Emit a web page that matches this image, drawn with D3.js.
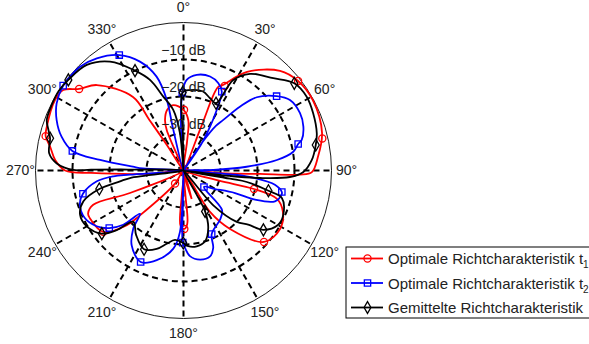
<!DOCTYPE html>
<html>
<head>
<meta charset="utf-8">
<script src="https://cdn.jsdelivr.net/npm/d3@7"></script>
<style>
  body { margin: 0; background: #fff; }
  text { font-family: "Liberation Sans", Arial, sans-serif; }
</style>
</head>
<body>
<svg id="chart" width="589" height="344"></svg>
<script>
// angle ticks (deg, clockwise from top) and dB rings
const angleTicks = [0, 30, 60, 90, 120, 150, 180, 210, 240, 270, 300, 330];
const ringTicks = [-10, -20, -30];

// series: [angle in deg, level in dB]
const redSeries = [
  [0, -23.6], [5.4, -26.3], [7, -32], [14, -40],
  [22, -27], [22.4, -15.7], [24.8, -14.5], [32.8, -8.3], [44.1, -2.5], [52, -0.7], [61.4, -0.2],
  [74.8, -1.2], [84.3, -3.5], [90.7, -5.3], [92, -8.5], [92.6, -19.3], [94, -30], [99, -40],
  [106, -30], [104.7, -20.3], [106.9, -13.6], [112.6, -10.9], [121.2, -9.5], [131.6, -10.9],
  [141.5, -19.8], [147.4, -26.7], [157, -40],
  [164, -32], [171, -40],
  [175.5, -33], [176, -25.5], [179.2, -24.2], [183, -25], [184, -33], [195, -40],
  [212.8, -35.8], [224.2, -23.1], [226, -18.7], [232.6, -12.7], [243, -11.6], [245.7, -11.7],
  [249.2, -13.9], [247.2, -24.3], [255, -40],
  [264, -32], [268.5, -15], [270, -8], [274.7, -5.2], [280.1, -3.4], [284, -1.6], [287.8, -1.2],
  [298.8, -0.4], [303.8, -0.9], [308, -4.2], [314.6, -7.1], [325.5, -15.9], [326, -23.6], [327, -32],
  [332, -40],
  [337.5, -28.2], [340, -25.4], [345, -23], [351, -22.1]
];
const redMarks = [
  [0.5, -23.6], [26, -14.6], [52, -0.7], [77, -1.5], [104.7, -20.3], [131.6, -10.9], [154.7, -40],
  [179.2, -24.2], [212.8, -35.8], [232.6, -12.7], [257.5, -40], [284, -1.6], [308, -4.2], [334.6, -40]
];

const blueSeries = [
  [359.1, -19], [2, -15.5], [7.9, -13.9], [15.8, -13.6], [21.8, -14.6], [25.9, -16.3], [28.8, -21.4],
  [31.2, -26.2], [33.8, -31.2], [33.5, -40],
  [34, -30], [36, -25], [38.2, -22.6], [41.5, -17], [45, -12], [51.4, -7.8], [56.5, -5.5], [63.8, -4.9],
  [69.9, -5.5], [75.5, -7], [77, -8.2], [80.3, -9.9], [83.6, -14.6], [86.6, -22.9], [89, -31.9], [92, -40],
  [94.7, -26], [96, -20.6], [98.8, -15], [102.3, -12.8], [103.8, -12.7], [108.6, -13.9], [112.2, -19.1],
  [113.6, -24.8], [120.4, -30.1], [128.8, -32.9],
  [135.7, -25.1], [143, -23.5], [156.1, -21.2], [159, -17.6], [162.8, -15.7], [169.5, -15.5], [175.7, -16.8],
  [178.9, -19.1], [180.6, -20.5], [181, -30], [182, -40],
  [183.3, -23.4], [187.4, -18.7], [196.6, -14.7], [205.1, -12.7], [214.7, -15.4], [220.8, -19.2],
  [225.2, -23.4], [228, -18.1], [232.2, -14.6], [237.3, -12.1], [244.3, -10.4], [251.7, -10.5],
  [257, -12.1], [262.9, -16.4], [265.3, -21], [265.5, -25.5], [268, -40],
  [273, -29], [274.3, -26.3], [277.2, -17.3], [280, -9.5], [285.5, -5.8], [291.7, -3.1], [297.9, -1.2],
  [305.2, -0.2], [309.6, -0.2], [315.1, -0.4], [322.3, -1.7], [330.9, -4.3], [338.2, -8.3], [344, -13.6],
  [346.7, -20.4], [346, -28], [352, -40],
  [356.5, -29]
];
const blueMarks = [
  [359.1, -19], [25.9, -16.3], [51.4, -7.8], [77, -8.2], [102.3, -12.8], [128.8, -32.9], [156.1, -21.2],
  [180.6, -20.5], [205.1, -12.7], [232.2, -14.6], [257, -12.1], [280, -9.5], [305.2, -0.2], [330.9, -4.3]
];

const blackSeries = [
  [359.4, -18.9], [4.6, -18.2], [13.9, -18], [20.2, -19.2], [25.8, -19.8], [28.8, -12.1], [34.5, -8.3],
  [44.2, -5.2], [51.8, -1.9], [59.1, -1.2], [66.2, -1.7], [74.4, -2.6], [79.1, -3.6], [85.3, -5.2],
  [90.7, -7.6], [93.5, -11.2], [95.6, -19.2], [96.7, -27.4], [98.5, -40],
  [100, -27.2], [100.3, -22.6], [103.4, -16.4], [105.6, -12.4], [113.9, -10.5], [119.8, -10.5],
  [126.6, -13.1], [129.9, -17.2], [134, -20], [139.4, -27.6], [145, -40],
  [151.4, -32.5], [152.2, -27.5], [156.7, -23.1], [163.1, -20], [170.1, -19.2], [176.4, -19.5],
  [180.2, -20.4], [187, -21.1], [192.9, -19.7], [198.9, -17.6], [206.6, -16.2], [216.4, -18.4],
  [224.3, -20.6], [228.2, -15.8], [232.3, -12.1], [240, -9.8], [246.9, -9.6], [252.9, -11.7],
  [257.6, -16.7], [260.3, -22.6], [262, -25.4], [266, -40],
  [271, -25], [270.5, -15], [270.3, -10.2], [273.2, -5.7], [277.3, -3.4], [283.6, -2.9], [286.7, -1.9],
  [290.3, -0.6], [296.7, -0.2], [302.4, 0], [308.2, -0.4], [317.5, -1.3], [326, -4.5], [334.1, -10],
  [339.7, -13.9], [344.7, -19.3], [350.4, -23.4], [354.6, -29.9], [357, -40],
  [359, -30]
];
const blackMarks = [
  [359.4, -18.9], [25.8, -19.8], [51.8, -1.9], [79.1, -3.6], [103.4, -16.4], [126.6, -13.1], [152.2, -27.5],
  [180.2, -20.4], [206.6, -16.2], [232.3, -12.1], [257.6, -16.7], [283.6, -2.9], [308.2, -0.4], [334.1, -10]
];

const legendLabels = ['Optimale Richtcharakteristik t', 'Optimale Richtcharakteristik t', 'Gemittelte Richtcharakteristik'];
const legendSubs = ['1', '2', ''];

const cx = 183.5, cy = 170.5, R = 148;
const svg = d3.select('#chart');
const g = svg.append('g').attr('transform', 'translate(' + cx + ',' + cy + ')');

const r = d3.scaleLinear().domain([-40, 0]).range([0, R]).clamp(true);
const rad = d => d * Math.PI / 180;

// outer circle
g.append('circle').attr('r', R).attr('fill', 'none').attr('stroke', '#000').attr('stroke-width', 0.9);

// dashed rings
g.selectAll('.ring').data(ringTicks).enter().append('circle')
  .attr('class', 'ring')
  .attr('r', d => r(d))
  .attr('fill', 'none')
  .attr('stroke', '#000')
  .attr('stroke-width', 2)
  .attr('stroke-dasharray', '6,4');

// spokes
g.selectAll('.spoke').data(angleTicks).enter().append('line')
  .attr('class', 'spoke')
  .attr('x1', 0).attr('y1', 0)
  .attr('x2', d => R * Math.sin(rad(d)))
  .attr('y2', d => -R * Math.cos(rad(d)))
  .attr('stroke', '#000')
  .attr('stroke-width', 2)
  .attr('stroke-dasharray', '6,4');

// angle labels
g.selectAll('.alab').data(angleTicks).enter().append('text')
  .attr('class', 'alab')
  .attr('x', d => (R + 15) * Math.sin(rad(d)))
  .attr('y', d => -(R + 15) * Math.cos(rad(d)))
  .attr('text-anchor', 'middle')
  .attr('dy', '0.35em')
  .attr('font-size', 14)
  .attr('fill', '#222')
  .text(d => d + '°');

const line = d3.lineRadial()
  .angle(d => rad(d[0]))
  .radius(d => r(d[1]))
  .curve(d3.curveCatmullRomClosed.alpha(0.5));

const series = [
  { data: redSeries, marks: redMarks, color: '#ff0000', sym: d3.symbolCircle },
  { data: blueSeries, marks: blueMarks, color: '#0000ff', sym: d3.symbolSquare },
  { data: blackSeries, marks: blackMarks, color: '#000000', sym: d3.symbolDiamond }
];

series.forEach(s => {
  g.append('path')
    .attr('d', line(s.data))
    .attr('fill', 'none')
    .attr('stroke', s.color)
    .attr('stroke-width', 1.8);
  g.selectAll(null).data(s.marks).enter().append('path')
    .attr('d', d3.symbol().type(s.sym).size(s.sym === d3.symbolDiamond ? 42 : 40))
    .attr('transform', d => 'translate(' + r(d[1]) * Math.sin(rad(d[0])) + ',' + (-r(d[1]) * Math.cos(rad(d[0]))) + ')')
    .attr('fill', 'none')
    .attr('stroke', s.color)
    .attr('stroke-width', 1.3);
});

// ring labels
g.selectAll('.rlab').data(ringTicks).enter().append('text')
  .attr('class', 'rlab')
  .attr('x', 0)
  .attr('y', d => -r(d) - 5)
  .attr('text-anchor', 'middle')
  .attr('font-size', 14)
  .attr('fill', '#222')
  .text(d => '\u2212' + Math.abs(d) + ' dB');

// legend
const lg = svg.append('g').attr('transform', 'translate(346,247)');
lg.append('rect').attr('width', 260).attr('height', 71)
  .attr('fill', '#fff').attr('stroke', '#000').attr('stroke-width', 1);
const rows = lg.selectAll('.row').data(series).enter().append('g')
  .attr('transform', (d, i) => 'translate(0,' + (11.5 + i * 24.5) + ')');
rows.append('line').attr('x1', 5).attr('x2', 37).attr('y1', 0).attr('y2', 0)
  .attr('stroke', d => d.color).attr('stroke-width', 1.8);
rows.append('path')
  .attr('d', d => d3.symbol().type(d.sym).size(40)())
  .attr('transform', 'translate(21.5,0)')
  .attr('fill', 'none').attr('stroke', d => d.color).attr('stroke-width', 1.3);
const lt = rows.append('text').attr('x', 42).attr('y', 5.5).attr('font-size', 15).attr('fill', '#222');
lt.append('tspan').text((d, i) => legendLabels[i]);
lt.append('tspan').attr('font-size', 10).attr('dy', 4).text((d, i) => legendSubs[i]);
</script>
</body>
</html>
